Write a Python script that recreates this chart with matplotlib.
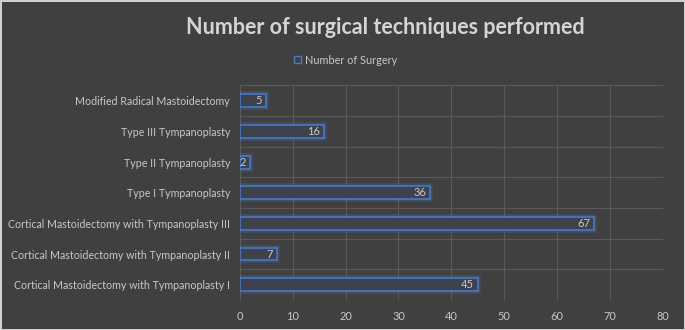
import numpy as np
import matplotlib
matplotlib.use("Agg")
import matplotlib.pyplot as plt
import matplotlib.patheffects as pe
from matplotlib.patches import Rectangle

plt.rcParams['font.family'] = ['Lato', 'DejaVu Sans']

# data
techniques = [
    "Cortical Mastoidectomy with Tympanoplasty I",
    "Cortical Mastoidectomy with Tympanoplasty II",
    "Cortical Mastoidectomy with Tympanoplasty III",
    "Type I Tympanoplasty",
    "Type II Tympanoplasty",
    "Type III Tympanoplasty",
    "Modified Radical Mastoidectomy",
]
counts = [45, 7, 67, 36, 2, 16, 5]
xticks = [0, 10, 20, 30, 40, 50, 60, 70, 80]

bg = "#404040"
edge = "#4a78c8"
txt = "#c8c8c8"

fig = plt.figure(figsize=(6.85, 3.3), dpi=100, facecolor=bg)
fig.patch.set_edgecolor("#d0d0d0")
fig.patch.set_linewidth(2)
ax = fig.add_axes([0.350, 0.091, 0.618, 0.650])
ax.set_facecolor(bg)

y = np.arange(len(techniques))
bars = ax.barh(y, counts, height=0.42, color="#3d424c", edgecolor=edge,
               linewidth=1.2, zorder=3, label="Number of Surgery")
for b in bars:
    b.set_path_effects([pe.Stroke(linewidth=4, foreground=edge, alpha=0.25),
                        pe.Normal()])

for yi, v in zip(y, counts):
    ax.text(v - 0.8, yi, str(v), ha="right", va="center", color=txt,
            fontsize=8, zorder=4)

ax.set_xlim(0, 80)
ax.set_ylim(-0.5, len(techniques) - 0.5)
ax.set_xticks(xticks)
ax.set_yticks(y)
ax.set_yticklabels(techniques)
ax.tick_params(axis="both", length=0, colors=txt)
ax.tick_params(axis="x", pad=8, labelsize=7.9)
ax.tick_params(axis="y", pad=7, labelsize=7.7)
ax.xaxis.grid(True, color="#5a5a5a", linewidth=0.8, zorder=0)
ax.set_yticks(np.arange(-0.5, len(techniques), 1), minor=True)
ax.yaxis.grid(True, which="minor", color="#5a5a5a", linewidth=0.8, zorder=0)
ax.tick_params(axis="y", which="minor", length=0)
for s in ax.spines.values():
    s.set_visible(False)

fig.text(0.562, 0.918, "Number of surgical techniques performed", ha="center",
         va="center", color="#d4d4d4", fontsize=15.5, fontweight="bold")

handle = Rectangle((0, 0), 1, 1, facecolor=bg, edgecolor=edge, linewidth=1)
fig.legend([handle], ["Number of Surgery"], loc="center",
           bbox_to_anchor=(0.505, 0.818), frameon=False, fontsize=7.8,
           labelcolor=txt, handlelength=0.6, handleheight=0.6,
           handletextpad=0.4)

fig.savefig("out.png", dpi=100, facecolor=bg, edgecolor="#d0d0d0")
